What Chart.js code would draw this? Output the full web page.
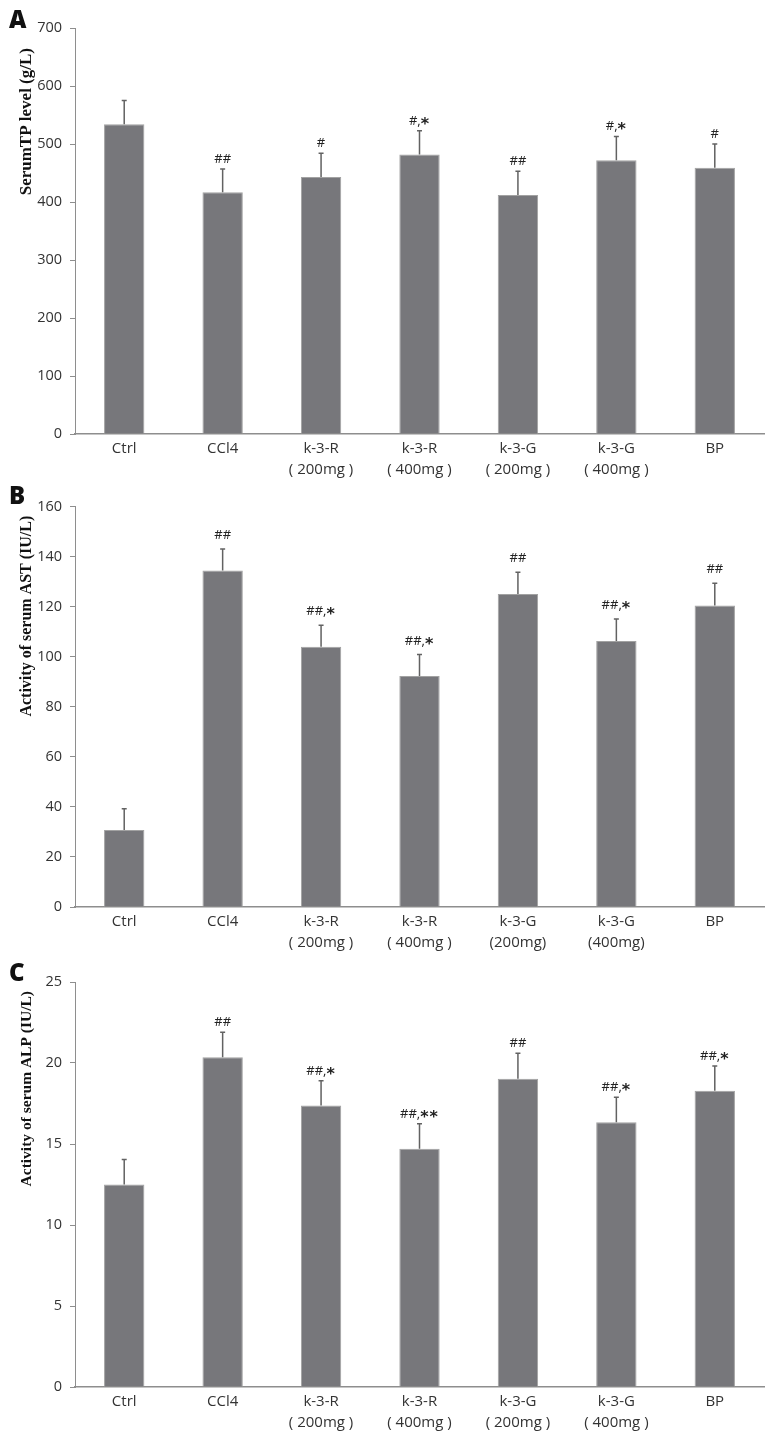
<!DOCTYPE html>
<html>
<head>
<meta charset="utf-8">
<script src="https://cdn.jsdelivr.net/npm/chart.js@4/dist/chart.umd.min.js"></script>
<style>
  body { margin: 0; background: #fff; }
  #page { position: relative; width: 771px; height: 1446px; }
  .panel { position: absolute; left: 0; width: 771px; }
  .letter { position: absolute; left: 9px; font: 800 24px "Open Sans", sans-serif; color: #111; }
</style>
</head>
<body>
<div id="page">
  <div class="panel" style="top:0;height:490px"><canvas id="chartA" width="771" height="490"></canvas></div>
  <div class="panel" style="top:490px;height:470px"><canvas id="chartB" width="771" height="470"></canvas></div>
  <div class="panel" style="top:960px;height:486px"><canvas id="chartC" width="771" height="486"></canvas></div>
  <div class="letter" style="top:2px">A</div>
  <div class="letter" style="top:478px">B</div>
  <div class="letter" style="top:955px">C</div>
</div>
<script>
// group labels (two lines for the dose groups)
var labelsA = ['Ctrl', 'CCl4', ['k-3-R', '( 200mg )'], ['k-3-R', '( 400mg )'], ['k-3-G', '( 200mg )'], ['k-3-G', '( 400mg )'], 'BP'];
var labelsB = ['Ctrl', 'CCl4', ['k-3-R', '( 200mg )'], ['k-3-R', '( 400mg )'], ['k-3-G', '(200mg)'], ['k-3-G', '(400mg)'], 'BP'];
var labelsC = labelsA;

// A: serum TP
var tpValues = [534, 417, 443, 482, 412, 472, 459];
var tpErrors = [41, 40, 41, 41, 41, 41, 41];
var tpMarks  = ['', '##', '#', '#,*', '##', '#,*', '#'];

// B: serum AST
var astValues = [30.8, 134.5, 104, 92.3, 125.1, 106.3, 120.5];
var astErrors = [8.5, 8.6, 8.6, 8.6, 8.7, 8.8, 8.9];
var astMarks  = ['', '##', '##,*', '##,*', '##', '##,*', '##'];

// C: serum ALP
var alpValues = [12.5, 20.35, 17.37, 14.7, 19.03, 16.34, 18.29];
var alpErrors = [1.55, 1.55, 1.53, 1.55, 1.57, 1.54, 1.53];
var alpMarks  = ['', '##', '##,*', '##,**', '##', '##,*', '##,*'];

var barFill = '#77777b';
var barEdge = '#a2a2a2';
var textColor = '#333';

// draws the upward error bars and the significance marks above them
const errorBars = {
  id: 'errorBars',
  afterDatasetsDraw(chart, args, opts) {
    const ctx = chart.ctx;
    const y = chart.scales.y;
    const meta = chart.getDatasetMeta(0);
    const values = chart.data.datasets[0].data;
    const small = '13px "Open Sans", sans-serif';
    const star = 'bold 16px "DejaVu Sans", sans-serif';
    ctx.save();
    meta.data.forEach((bar, i) => {
      const base = y.getPixelForValue(values[i]);
      const top = y.getPixelForValue(values[i] + opts.errors[i]);
      ctx.strokeStyle = '#626262';
      ctx.lineWidth = 1.5;
      ctx.beginPath();
      ctx.moveTo(bar.x, base);
      ctx.lineTo(bar.x, top);
      ctx.moveTo(bar.x - 2.5, top);
      ctx.lineTo(bar.x + 2.5, top);
      ctx.stroke();

      // '#' and ',' small, '*' big and centred, like the figure
      const chars = opts.marks[i].split('');
      let total = 0;
      const widths = chars.map(c => {
        ctx.font = c === '*' ? star : small;
        const w = ctx.measureText(c).width + (c === '*' ? 1 : 0);
        total += w;
        return w;
      });
      let x = bar.x - total / 2;
      const baseY = top - opts.gap;
      ctx.fillStyle = '#222';
      ctx.textAlign = 'left';
      ctx.textBaseline = 'alphabetic';
      chars.forEach((c, k) => {
        ctx.font = c === '*' ? star : small;
        ctx.fillText(c, x, c === '*' ? baseY + 4 : baseY);
        x += widths[k];
      });
    });
    ctx.restore();
  }
};

// rotated y title, starting a little below the top of the axis
const yTitle = {
  id: 'yTitle',
  afterDraw(chart, args, opts) {
    const ctx = chart.ctx;
    ctx.save();
    ctx.translate(27, chart.chartArea.top + opts.offset);
    ctx.rotate(-Math.PI / 2);
    ctx.font = 'bold ' + opts.size + 'px "Liberation Serif", serif';
    ctx.fillStyle = '#111';
    ctx.textAlign = 'right';
    ctx.textBaseline = 'middle';
    ctx.fillText(opts.text, 0, 0);
    ctx.restore();
  }
};

function makeChart(id, labels, values, errors, marks, gap, yMax, yStep, title, titleSize, titleOffset, padTop, xHeight) {
  return new Chart(document.getElementById(id), {
    type: 'bar',
    data: {
      labels: labels,
      datasets: [{
        data: values,
        backgroundColor: barFill,
        borderColor: barEdge,
        borderWidth: 1,
        barPercentage: 0.41,
        categoryPercentage: 1
      }]
    },
    options: {
      responsive: false,
      animation: false,
      layout: { padding: { top: padTop, right: 7, bottom: 0, left: 0 } },
      plugins: {
        legend: { display: false },
        tooltip: { enabled: false },
        errorBars: { errors: errors, marks: marks, gap: gap },
        yTitle: { text: title, size: titleSize, offset: titleOffset }
      },
      scales: {
        x: {
          grid: { display: false, drawTicks: false },
          border: { color: '#8e8e8e', width: 1.5 },
          ticks: {
            color: textColor,
            font: { family: 'Open Sans', size: 15, lineHeight: 1.4 },
            padding: 4,
            maxRotation: 0,
            autoSkip: false
          },
          afterFit: s => { s.height = xHeight; }
        },
        y: {
          min: 0,
          max: yMax,
          grid: { display: true, drawOnChartArea: false, drawTicks: true, tickLength: 5, color: '#8e8e8e' },
          border: { color: '#8e8e8e', width: 1 },
          ticks: {
            stepSize: yStep,
            color: textColor,
            font: { family: 'Open Sans', size: 14.5 },
            padding: 8
          },
          afterFit: s => { s.width = 75; }
        }
      }
    },
    plugins: [errorBars, yTitle]
  });
}

makeChart('chartA', labelsA, tpValues, tpErrors, tpMarks, 6, 700, 100, 'SerumTP level (g/L)', 17, 20, 28, 56);
makeChart('chartB', labelsB, astValues, astErrors, astMarks, 10, 160, 20, 'Activity of serum AST (IU/L)', 16, 9, 14, 53);
makeChart('chartC', labelsC, alpValues, alpErrors, alpMarks, 6, 25, 5, 'Activity of serum ALP (IU/L)', 15.5, 9, 22, 59);
</script>
</body>
</html>
